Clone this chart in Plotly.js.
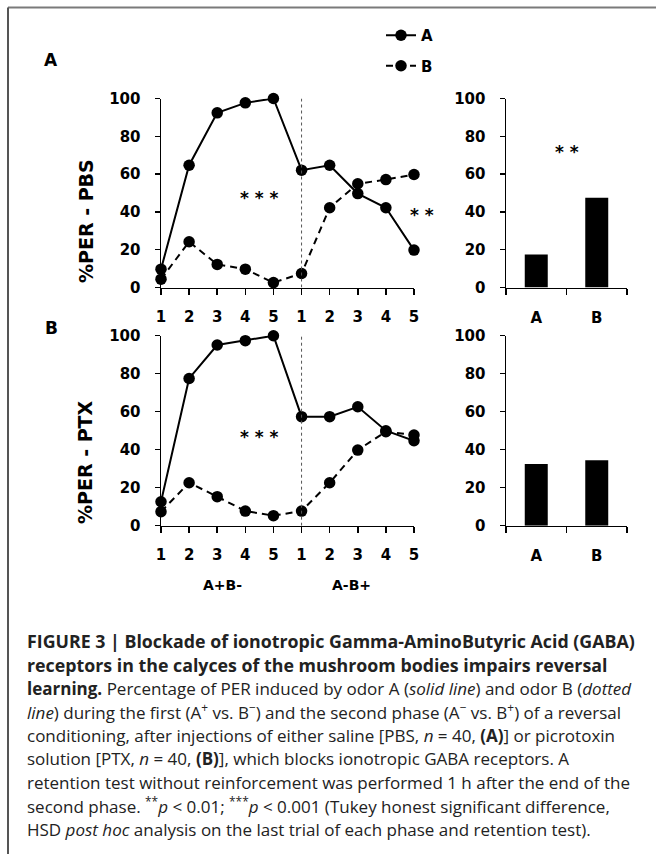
<!DOCTYPE html>
<html>
<head>
<meta charset="utf-8">
<script src="https://cdn.plot.ly/plotly-3.0.1.min.js"></script>
<style>
  html, body { margin: 0; padding: 0; background: #ffffff; }
  #chart { width: 656px; height: 854px; }
</style>
</head>
<body>
<div id="chart"></div>
<script>
// ---- data ----
const trialPos = [0, 1, 2, 3, 4, 5, 6, 7, 8, 9];
const trialLabels = ["1", "2", "3", "4", "5", "1", "2", "3", "4", "5"];
const pbsOdorA = [9.7, 64.7, 92.4, 97.7, 100, 62.1, 64.7, 49.7, 42.2, 19.8];
const pbsOdorB = [4.4, 24.2, 12.2, 9.7, 2.6, 7.4, 42.2, 54.9, 57.1, 59.8];
const ptxOdorA = [12.6, 77.5, 95.1, 97.4, 100, 57.4, 57.4, 62.6, 50, 44.7];
const ptxOdorB = [7.4, 22.6, 15.3, 7.7, 5.3, 7.7, 22.6, 39.8, 49.5, 47.7];
const retentionOdors = ["A", "B"];
const pbsRetention = [17.5, 47.5];
const ptxRetention = [32.5, 34.5];
const yTicks = [0, 20, 40, 60, 80, 100];
const phaseBoundary = 5;

// ---- helpers ----
const W = 656, H = 854;
const px = v => v / W;
const py = v => 1 - v / H;
const tickFont = { family: "DejaVu Sans", size: 15, color: "#000", weight: "bold" };
const black = "#000";

function lineTrace(y, dashed, xa, ya, name, legend) {
  return {
    type: "scatter", mode: "lines+markers",
    x: trialPos, y: y, xaxis: xa, yaxis: ya,
    name: name, showlegend: legend, legendgroup: name,
    cliponaxis: false,
    line: { color: black, width: 2, dash: dashed ? "7px,5px" : "solid" },
    marker: { color: black, size: 11.5 },
    hoverinfo: "skip"
  };
}
function barTrace(y, xa, ya) {
  return {
    type: "bar", x: retentionOdors, y: y, xaxis: xa, yaxis: ya,
    width: 0.38, showlegend: false,
    marker: { color: black, line: { width: 0 } },
    hoverinfo: "skip"
  };
}

const data = [
  lineTrace(pbsOdorA, false, "x", "y", "A", true),
  lineTrace(pbsOdorB, true, "x", "y", "B", true),
  barTrace(pbsRetention, "x2", "y2"),
  lineTrace(ptxOdorA, false, "x3", "y3", "A", false),
  lineTrace(ptxOdorB, true, "x3", "y3", "B", false),
  barTrace(ptxRetention, "x4", "y4")
];

const lineX = [px(161), px(414)];
const barX = [px(506), px(627)];
const rowA = [py(287.5), py(98.5)];
const rowB = [py(525.7), py(335.7)];

function xLineAxis(anchor) {
  return {
    domain: lineX, anchor: anchor, range: [0, 9],
    tickmode: "array", tickvals: trialPos, ticktext: trialLabels,
    showline: true, linecolor: black, linewidth: 1.5,
    ticks: "outside", ticklen: 6, tickwidth: 1.5, tickcolor: black,
    ticklabelstandoff: 9,
    showgrid: false, zeroline: false, tickfont: tickFont, fixedrange: true
  };
}
function xBarAxis(anchor) {
  return {
    domain: barX, anchor: anchor, type: "category",
    range: [-0.5, 1.5], tickson: "boundaries",
    showline: true, linecolor: black, linewidth: 1.5,
    ticks: "outside", ticklen: 6, tickwidth: 1.5, tickcolor: black,
    ticklabelstandoff: 16,
    showgrid: false, zeroline: false, tickfont: tickFont, fixedrange: true
  };
}
function yAxis(domain, anchor) {
  return {
    domain: domain, anchor: anchor, range: [0, 100],
    tickmode: "array", tickvals: yTicks,
    showline: true, linecolor: black, linewidth: 1.5,
    ticks: "outside", ticklen: 5, tickwidth: 1.5, tickcolor: black,
    ticklabelstandoff: 11,
    showgrid: false, zeroline: false, tickfont: tickFont, fixedrange: true
  };
}

function ann(text, x, y, opts) {
  return Object.assign({
    text: text, xref: "paper", yref: "paper", x: px(x), y: py(y),
    xanchor: "center", yanchor: "middle", showarrow: false,
    font: { family: "DejaVu Sans", size: 15, color: black, weight: "bold" }
  }, opts || {});
}

const capFont = { family: "Open Sans", size: 17, color: "#222" };
const capBoldFont = { family: "Open Sans", size: 17.8, color: "#222" };
const captionLines = [
  "<b>FIGURE 3 | Blockade of ionotropic Gamma-AminoButyric Acid (GABA)</b>",
  "<b>receptors in the calyces of the mushroom bodies impairs reversal</b>",
  "<b>learning.</b> Percentage of PER induced by odor A (<i>solid line</i>) and odor B (<i>dotted</i>",
  "<i>line</i>) during the first (A<sup>+</sup> vs. B<sup>\u2212</sup>) and the second phase (A<sup>\u2212</sup> vs. B<sup>+</sup>) of a reversal",
  "conditioning, after injections of either saline [PBS, <i>n</i> = 40, <b>(A)</b>] or picrotoxin",
  "solution [PTX, <i>n</i> = 40, <b>(B)</b>], which blocks ionotropic GABA receptors. A",
  "retention test without reinforcement was performed 1 h after the end of the",
  "second phase. <sup>**</sup><i>p</i> &lt; 0.01; <sup>***</sup><i>p</i> &lt; 0.001 (Tukey honest significant difference,",
  "HSD <i>post hoc</i> analysis on the last trial of each phase and retention test)."
];
const captionAnns = captionLines.map((t, i) => ann(t, 25, 641 + i * 23.5, {
  xanchor: "left", align: "left", font: i < 2 ? capBoldFont : capFont
}));

const starFont = { family: "DejaVu Sans", size: 17, color: black, weight: "bold" };

const layout = {
  width: W, height: H,
  margin: { l: 0, r: 0, t: 0, b: 0 },
  paper_bgcolor: "#fff", plot_bgcolor: "rgba(0,0,0,0)",
  showlegend: true,
  legend: {
    x: px(381), y: py(19), xanchor: "left", yanchor: "top",
    bgcolor: "rgba(0,0,0,0)", borderwidth: 0,
    font: { family: "DejaVu Sans", size: 15, color: black, weight: "bold" },
    tracegroupgap: 8, itemclick: false, itemdoubleclick: false
  },
  xaxis: xLineAxis("y"), yaxis: yAxis(rowA, "x"),
  xaxis2: xBarAxis("y2"), yaxis2: yAxis(rowA, "x2"),
  xaxis3: xLineAxis("y3"), yaxis3: yAxis(rowB, "x3"),
  xaxis4: xBarAxis("y4"), yaxis4: yAxis(rowB, "x4"),
  shapes: [
    { type: "line", xref: "x", yref: "y", x0: phaseBoundary, x1: phaseBoundary, y0: 0, y1: 101,
      line: { color: "#555", width: 1, dash: "3px,3px" } },
    { type: "line", xref: "x3", yref: "y3", x0: phaseBoundary, x1: phaseBoundary, y0: 0, y1: 100,
      line: { color: "#555", width: 1, dash: "3px,3px" } },
    { type: "line", xref: "paper", yref: "paper", x0: px(8), x1: 1, y0: py(7.5), y1: py(7.5),
      line: { color: "#7a7a7a", width: 2 } },
    { type: "line", xref: "paper", yref: "paper", x0: px(8), x1: px(8), y0: py(7.5), y1: 0,
      line: { color: "#555", width: 2 } }
  ],
  annotations: [
    ann("A", 51, 60, { font: { family: "DejaVu Sans", size: 17, color: black, weight: "bold" } }),
    ann("B", 51, 328, { font: { family: "DejaVu Sans", size: 17, color: black, weight: "bold" } }),
    ann("%PER - PBS", 86, 221, { textangle: -90, font: { family: "DejaVu Sans", size: 19, color: black, weight: "bold" } }),
    ann("%PER - PTX", 85, 462, { textangle: -90, font: { family: "DejaVu Sans", size: 19, color: black, weight: "bold" } }),
    ann("* * *", 259, 198, { font: starFont }),
    ann("* *", 422, 215, { font: starFont }),
    ann("* *", 567, 152, { font: starFont }),
    ann("* * *", 259, 437, { font: starFont }),
    ann("A+B-", 222, 585, { font: { family: "DejaVu Sans", size: 14, color: black, weight: "bold" } }),
    ann("A-B+", 351, 585, { font: { family: "DejaVu Sans", size: 14, color: black, weight: "bold" } })
  ].concat(captionAnns)
};

Plotly.newPlot("chart", data, layout, { staticPlot: true, displayModeBar: false });
</script>
</body>
</html>
